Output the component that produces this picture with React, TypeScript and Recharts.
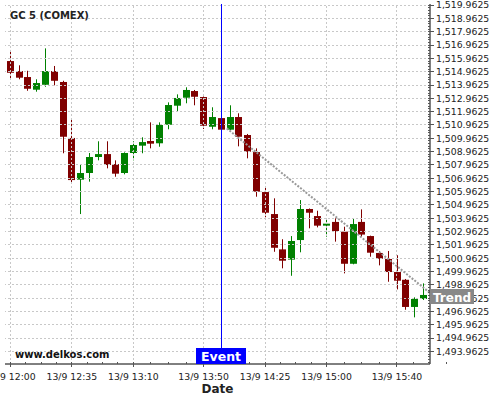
import { ComposedChart, Bar, XAxis, YAxis, ReferenceLine } from 'recharts';

const times = [
  '12:00', '12:05', '12:10', '12:15', '12:20', '12:25', '12:30', '12:35', '12:40', '12:45', '12:50', '12:55',
  '13:00', '13:05', '13:10', '13:15', '13:20', '13:25', '13:30', '13:35', '13:40', '13:45', '13:50', '13:55',
  '14:00', '14:05', '14:10', '14:15', '14:20', '14:25', '14:30', '14:35', '14:40', '14:45', '14:50', '14:55',
  '15:00', '15:05', '15:10', '15:15', '15:20', '15:25', '15:30', '15:35', '15:40', '15:45', '15:50', '15:55',
];

const opens = [
  1515.76, 1515.01, 1514.56, 1513.61, 1513.98, 1515.01, 1514.19, 1509.99, 1506.86, 1507.36, 1508.56, 1508.78,
  1508.03, 1507.36, 1508.86, 1509.41, 1509.76, 1509.59, 1510.98, 1512.41, 1513.01, 1513.51, 1513.06, 1510.83,
  1511.48, 1510.61, 1511.56, 1510.21, 1508.93, 1505.93, 1504.28, 1501.63, 1500.86, 1502.33, 1504.66, 1504.13,
  1503.41, 1503.69, 1502.96, 1500.55, 1503.69, 1502.63, 1501.36, 1500.91, 1499.93, 1499.35, 1497.31, 1497.91,
];
const highs = [
  1516.59, 1515.44, 1515.03, 1514.39, 1516.71, 1515.39, 1514.28, 1511.43, 1508.01, 1508.86, 1509.74, 1509.74,
  1508.31, 1508.91, 1509.74, 1510.04, 1511.16, 1511.16, 1512.66, 1513.26, 1513.79, 1513.59, 1513.10, 1512.29,
  1511.55, 1512.44, 1511.84, 1510.29, 1509.21, 1506.36, 1505.46, 1502.39, 1502.63, 1505.33, 1504.70, 1504.53,
  1503.93, 1503.96, 1503.33, 1503.96, 1504.63, 1502.66, 1501.51, 1501.51, 1501.19, 1499.41, 1498.03, 1499.08,
];
const lows = [
  1514.39, 1514.39, 1513.53, 1513.46, 1513.83, 1513.94, 1508.84, 1506.63, 1504.28, 1506.71, 1508.31, 1507.71,
  1507.08, 1507.26, 1508.31, 1508.84, 1509.21, 1509.33, 1510.64, 1512.01, 1512.59, 1512.44, 1510.66, 1510.64,
  1510.55, 1510.58, 1509.36, 1508.46, 1505.58, 1504.04, 1501.45, 1500.21, 1499.65, 1501.41, 1503.21, 1503.28,
  1502.58, 1502.21, 1499.83, 1500.51, 1502.58, 1501.08, 1500.43, 1499.20, 1498.63, 1497.10, 1496.53, 1497.83,
];
const closes = [
  1514.88, 1514.51, 1513.68, 1514.11, 1515.01, 1514.28, 1510.08, 1506.83, 1507.36, 1508.56, 1508.78, 1507.96,
  1507.31, 1508.86, 1509.46, 1509.68, 1509.56, 1510.96, 1512.46, 1512.99, 1513.59, 1513.08, 1510.91, 1511.56,
  1510.61, 1511.56, 1510.08, 1508.96, 1505.96, 1504.38, 1501.75, 1500.78, 1502.26, 1504.66, 1504.38, 1503.41,
  1503.56, 1503.01, 1500.55, 1503.53, 1502.74, 1501.38, 1500.93, 1499.93, 1499.28, 1497.31, 1497.91, 1498.21,
];

// labelled x ticks (candle index -> label)
const xTickIndex = [0, 7, 14, 22, 29, 36, 44];
const xTickLabels = ['13/9 12:00', '13/9 12:35', '13/9 13:10', '13/9 13:50', '13/9 14:25', '13/9 15:00', '13/9 15:40'];

const yTicks = [
  1493.9625, 1494.9625, 1495.9625, 1496.9625, 1497.9625, 1498.9625, 1499.9625, 1500.9625, 1501.9625,
  1502.9625, 1503.9625, 1504.9625, 1505.9625, 1506.9625, 1507.9625, 1508.9625, 1509.9625, 1510.9625,
  1511.9625, 1512.9625, 1513.9625, 1514.9625, 1515.9625, 1516.9625, 1517.9625, 1518.9625, 1519.9625,
];

const eventIndex = 24;
const trendX = [24.63, 47.76];
const trendY = [1510.71, 1498.36];

const UP = '#008000';
const DOWN = '#800000';
const FONT = '"DejaVu Sans", sans-serif';

const data = times.map((t, i) => ({
  i,
  t,
  o: opens[i],
  h: highs[i],
  l: lows[i],
  c: closes[i],
  range: [lows[i], highs[i]],
}));

// minor ticks: 4 subdivisions between labelled x ticks, 5 between y ticks
const xMinor: number[] = [];
for (let k = 0; k < xTickIndex.length - 1; k++) {
  const a = xTickIndex[k];
  const b = xTickIndex[k + 1];
  for (let j = 1; j < 4; j++) xMinor.push(a + ((b - a) * j) / 4);
}
for (let j = 1; j < 4; j++) xMinor.push(44 + (7.5 * j) / 4);
const yMinor: number[] = [];
yTicks.forEach((v) => {
  for (let j = 1; j < 5; j++) if (v + j * 0.2 < 1520) yMinor.push(v + j * 0.2);
});
yMinor.push(1493.7625, 1493.5625, 1493.3625, 1493.1625);

const isMajorY = (v: number) => yTicks.some((t) => Math.abs(t - v) < 1e-6);
const fmtPrice = (v: number) =>
  v.toLocaleString('en-US', { minimumFractionDigits: 4, maximumFractionDigits: 4 });

const snap = (v: number) => Math.floor(v) + 0.5;

// reference line drawn on whole pixels so it stays 1px sharp
const crispLine = (color: string, dash?: string) => (p: any) => (
  <line
    x1={p.x1 === p.x2 ? snap(p.x1) : p.x1}
    x2={p.x1 === p.x2 ? snap(p.x2) : p.x2}
    y1={p.y1 === p.y2 ? snap(p.y1) : p.y1}
    y2={p.y1 === p.y2 ? snap(p.y2) : p.y2}
    stroke={color}
    strokeWidth={1}
    strokeDasharray={dash}
  />
);

function Candle(props: any) {
  const { x, y, width, height, payload } = props;
  if (!payload) return null;
  const { o, h, l, c } = payload;
  const top = Math.min(y, y + height);
  const bottom = Math.max(y, y + height);
  const k = (bottom - top) / (h - l);
  const yOf = (v: number) => top + (h - v) * k;
  const color = c >= o ? UP : DOWN;
  const rx = Math.round(x + width / 2 - 3.5);
  const bTop = yOf(Math.max(o, c));
  const bBot = yOf(Math.min(o, c));
  return (
    <g>
      <line x1={rx + 3.5} x2={rx + 3.5} y1={top} y2={bottom} stroke={color} strokeWidth={1} />
      <rect x={rx} y={bTop} width={7} height={Math.max(1, bBot - bTop)} fill={color} />
    </g>
  );
}

function XTick({ x, y, payload }: any) {
  const k = xTickIndex.indexOf(payload.value);
  const sx = snap(x);
  if (k < 0) {
    return <line x1={sx} x2={sx} y1={y - 2} y2={y} stroke="#555" />;
  }
  return (
    <g>
      <line x1={sx} x2={sx} y1={y - 2} y2={y + 3} stroke="#555" />
      <text x={x} y={y + 16} textAnchor="middle" fontSize={9.3} fontFamily={FONT} fill="#222">
        {xTickLabels[k]}
      </text>
    </g>
  );
}

function YTick({ x, y, payload }: any) {
  const sy = snap(y);
  if (!isMajorY(payload.value)) {
    return <line x1={x - 2} x2={x} y1={sy} y2={sy} stroke="#555" />;
  }
  return (
    <g>
      <line x1={x - 2} x2={x + 4} y1={sy} y2={sy} stroke="#555" />
      <text x={x + 6} y={y} dy="0.35em" fontSize={9.3} fontFamily={FONT} fill="#222">
        {fmtPrice(payload.value)}
      </text>
    </g>
  );
}

export default function App() {
  return (
    <div style={{ position: 'absolute', left: 0, top: 0, width: 500, height: 400, background: '#fff' }}>
      <ComposedChart width={500} height={400} data={data} margin={{ top: 4, right: 0, left: 5, bottom: 0 }}>
        <XAxis
          dataKey="i"
          type="number"
          domain={[-0.6, 47.76]}
          allowDataOverflow
          ticks={[...xTickIndex, ...xMinor]}
          interval={0}
          tick={<XTick />}
          tickLine={false}
          tickSize={0}
          tickMargin={0}
          axisLine={{ stroke: '#000' }}
          height={36}
        />
        <YAxis
          orientation="right"
          type="number"
          domain={[1493.03, 1520.04]}
          allowDataOverflow
          ticks={[...yTicks, ...yMinor]}
          interval={0}
          tick={<YTick />}
          tickLine={false}
          tickSize={0}
          tickMargin={0}
          axisLine={{ stroke: '#000' }}
          width={70}
        />
        {yTicks.map((v) => (
          <ReferenceLine key={`gy${v}`} y={v} shape={crispLine('#c8c8c8', '2 2')} />
        ))}
        {xTickIndex.map((v) => (
          <ReferenceLine key={`gx${v}`} x={v} shape={crispLine('#c8c8c8', '2 2')} />
        ))}
        <Bar dataKey="range" barSize={7} shape={<Candle />} isAnimationActive={false} />
        <ReferenceLine x={eventIndex} shape={crispLine('#0000ff')} />
        <ReferenceLine
          segment={[
            { x: trendX[0], y: trendY[0] },
            { x: trendX[1], y: trendY[1] },
          ]}
          stroke="#999"
          strokeWidth={2}
          strokeDasharray="2 1.5"
          ifOverflow="visible"
        />
      </ComposedChart>
      <svg
        width={500}
        height={400}
        style={{ position: 'absolute', left: 0, top: 0, pointerEvents: 'none' }}
        fontFamily={FONT}
      >
        <text x={10} y={19} fontSize={10} fontWeight="bold" fill="#222">GC 5 (COMEX)</text>
        <text x={15} y={357.5} fontSize={10} fontWeight="bold" fill="#111">www.delkos.com</text>
        <rect x={196} y={348} width={50} height={16} fill="#0000ff" />
        <text x={221} y={361} textAnchor="middle" fontSize={12.5} fontWeight="bold" fill="#fff">Event</text>
        <rect x={430} y={289} width={44} height={15} fill="#888" />
        <text x={452} y={301.5} textAnchor="middle" fontSize={12} fontWeight="bold" fill="#fff">Trend</text>
        <text x={217.5} y={393} textAnchor="middle" fontSize={12} fontWeight="bold" fill="#222">Date</text>
      </svg>
    </div>
  );
}
